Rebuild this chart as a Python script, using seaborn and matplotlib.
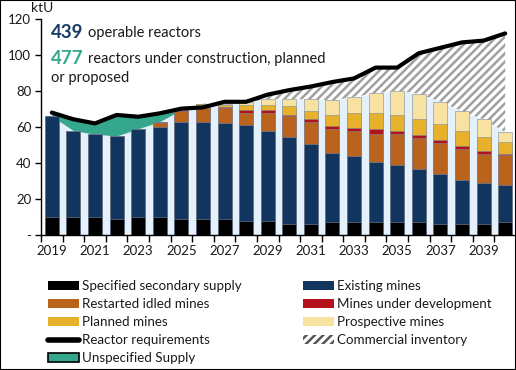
import numpy as np
import matplotlib
matplotlib.use("Agg")
import matplotlib.pyplot as plt
import seaborn as sns
from matplotlib.patches import Patch, Rectangle
from matplotlib.lines import Line2D

# values, ktU
years = list(range(2019, 2041))
secondary = [10, 10, 10, 9, 10, 10, 9, 9, 9, 8, 8, 6, 6, 7, 7, 7, 7, 7, 6, 6, 6, 7]
existing = [56, 48, 46, 46, 49, 50, 54, 54, 53, 53, 50, 48.5, 44.5, 38.5, 37, 33.5, 32, 29.5, 28, 24.5, 23, 21]
restarted = [0, 0, 0, 0, 0, 2.2, 6, 7.5, 8.5, 7, 10, 11.5, 12, 13.2, 13.7, 15.4, 17.2, 17.4, 17.2, 17.1, 15.9, 16.3]
development = [0, 0, 0, 0, 0, 0.8, 0.3, 0, 0.8, 1.3, 1.3, 0.8, 1.8, 1.8, 1.8, 2.8, 1.7, 1.6, 1.8, 1.8, 1.9, 0.7]
planned = [0, 0, 0, 0, 0, 0, 0.2, 2.5, 1.1, 2.9, 2.8, 4.8, 4.8, 6, 8.2, 8.9, 8.9, 9.1, 8.8, 8.2, 7.9, 6.9]
prospective = [0, 0, 0, 0, 0, 0, 0, 0, 0.5, 1.5, 3.3, 4, 6.2, 8.3, 9.1, 11.1, 13.3, 13.9, 12.3, 11.2, 9.5, 5.3]
requirements = [68, 64.3, 62, 66.7, 65.7, 67.6, 70.2, 70.9, 74, 74, 78, 80.5, 82.5, 85, 87, 93, 93, 101, 104, 107, 108, 112]

layers = [
    ("Specified secondary supply", secondary, "#000000"),
    ("Existing mines", existing, "#12355f"),
    ("Restarted idled mines", restarted, "#b9631c"),
    ("Mines under development", development, "#b3121d"),
    ("Planned mines", planned, "#e8b12c"),
    ("Prospective mines", prospective, "#f8e2a2"),
]
teal = "#34a78c"
light = "#e4f1fb"
navy_txt = "#1a3a66"

sns.set_style("white")
plt.rcParams["font.family"] = ["Lato", "DejaVu Sans"]
plt.rcParams["hatch.linewidth"] = 1.8

pos = np.arange(len(years))
cum = np.cumsum([l[1] for l in layers], axis=0)
total = cum[-1]
req = np.array(requirements)

fig = plt.figure(figsize=(5.16, 3.70), dpi=100)
ax = fig.add_axes([41 / 516, 135 / 370, 475 / 516, 216 / 370])

# background areas
ax.fill_between(pos, 0, total, color=light, lw=0, zorder=0)
ax.fill_between(pos[:7], total[:7], req[:7], facecolor=teal, lw=0, zorder=0)
ax.fill_between(pos[6:], total[6:], req[6:], facecolor="white", edgecolor="#a0a0a0",
                hatch="////", lw=0, zorder=0)

# stacked bars: tallest first, lower layers painted over
for k in range(len(layers) - 1, -1, -1):
    sns.barplot(x=pos, y=cum[k], color=layers[k][2], saturation=1, width=0.65,
                edgecolor="#7d8ba0", linewidth=0.4, ax=ax)

sns.lineplot(x=pos, y=req, color="black", lw=3, ax=ax, zorder=5,
             solid_capstyle="round", solid_joinstyle="round")

ax.set_xlim(-0.5, 21.5)
ax.set_ylim(0, 120)
ax.set_xlabel("")
ax.set_ylabel("")
sns.despine(ax=ax)
for s in ("left", "bottom"):
    ax.spines[s].set_color("black")
    ax.spines[s].set_linewidth(1)

ax.set_xticks(pos[::2])
ax.set_xticklabels([str(y) for y in years[::2]], fontsize=9.5, color="#1a1a1a")
ax.set_xticks(np.arange(-0.5, 22, 1), minor=True)
ax.tick_params(axis="x", which="major", length=0, pad=7)
ax.tick_params(axis="x", which="minor", length=5, width=1, direction="out", color="black")
ax.set_yticks([0, 20, 40, 60, 80, 100, 120])
ax.set_yticklabels(["-", "20", "40", "60", "80", "100", "120"], fontsize=9.5, color="#1a1a1a")
ax.tick_params(axis="y", length=4, width=1, direction="out", color="black", pad=3, left=True)
ax.tick_params(axis="x", bottom=True, which="both")

fig.text(42 / 516, 1 - 8 / 370, "ktU", fontsize=10, ha="center", va="center", color="#1a1a1a")

fig.text(51 / 516, 1 - 32 / 370, "439", fontsize=13.5, fontweight="bold", color=navy_txt, va="center")
fig.text(88 / 516, 1 - 33 / 370, "operable reactors", fontsize=10.5, color="#1a1a1a", va="center")
fig.text(51 / 516, 1 - 58 / 370, "477", fontsize=13.5, fontweight="bold", color=teal, va="center")
fig.text(88 / 516, 1 - 59 / 370, "reactors under construction, planned", fontsize=10.5,
         color="#1a1a1a", va="center")
fig.text(51 / 516, 1 - 78 / 370, "or proposed", fontsize=10.5, color="#1a1a1a", va="center")

# legend in two blocks
def patch(c):
    return Patch(facecolor=c, edgecolor="none")

left_h = [patch(layers[0][2]), patch(layers[2][2]), patch(layers[4][2]),
          Line2D([0], [0], color="black", lw=4, solid_capstyle="round"),
          Patch(facecolor=teal, edgecolor="black", lw=1.2)]
left_l = [layers[0][0], layers[2][0], layers[4][0], "Reactor requirements", "Unspecified Supply"]
right_h = [patch(layers[1][2]), patch(layers[3][2]), patch(layers[5][2]),
           Patch(facecolor="white", edgecolor="#555555", hatch="////", lw=0)]
right_l = [layers[1][0], layers[3][0], layers[5][0], "Commercial inventory"]

kw = dict(loc="upper left", frameon=False, fontsize=9.6, handlelength=2.3, handleheight=0.6,
          handletextpad=0.25, labelspacing=0.45, borderpad=0, borderaxespad=0, labelcolor="#1a1a1a")
fig.legend(left_h, left_l, bbox_to_anchor=(48 / 516, 1 - 280 / 370), **kw)
fig.legend(right_h, right_l, bbox_to_anchor=(303 / 516, 1 - 280 / 370), **kw)

fig.add_artist(Rectangle((0, 0), 1, 1, transform=fig.transFigure, fill=False,
                         edgecolor="black", lw=1.5))

fig.savefig("out.png", dpi=100)
